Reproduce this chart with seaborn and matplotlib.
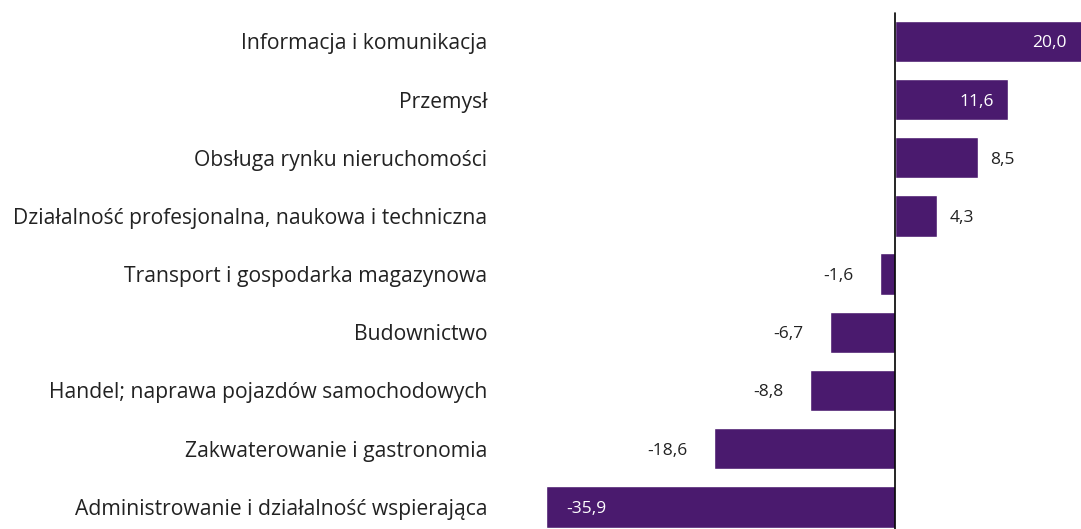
import seaborn as sns
import matplotlib.pyplot as plt
import pandas as pd

# data
categories = ['Informacja i komunikacja', 'Przemysł', 'Obsługa rynku nieruchomości',
              'Działalność profesjonalna, naukowa i techniczna',
              'Transport i gospodarka magazynowa', 'Budownictwo',
              'Handel; naprawa pojazdów samochodowych',
              'Zakwaterowanie i gastronomia',
              'Administrowanie i działalność wspierająca']
values = [20.0, 11.6, 8.5, 4.3, -1.6, -6.7, -8.8, -18.6, -35.9]
inside = [True, True, False, False, False, False, False, False, True]

bar_color = '#4a1a6e'

sns.set_style('white')
plt.rcParams['font.family'] = ['Open Sans', 'DejaVu Sans']

df = pd.DataFrame({'cat': categories, 'val': values})

fig = plt.figure(figsize=(10.81, 5.29), dpi=100)
ax = fig.add_axes([540 / 1081, 0, 541 / 1081, 1])

sns.barplot(data=df, x='val', y='cat', orient='h', color=bar_color,
            width=0.71, saturation=1, ax=ax)

ax.set_xlim(-36.5, 19.1)
ax.set_ylim(8.38, -0.71)
ax.axvline(0, ymin=0, ymax=516 / 529, color='black', lw=1.2)

for s in ax.spines.values():
    s.set_visible(False)
ax.set_xticks([])
ax.set_xlabel('')
ax.set_ylabel('')
ax.tick_params(axis='y', length=0, pad=38, labelsize=15.2, labelcolor='#222222')

# value labels
fs = 12.5
for i, (v, ins) in enumerate(zip(values, inside)):
    txt = f'{v:.1f}'.replace('.', ',')
    if ins:
        if v > 0:
            ax.annotate(txt, (min(v, 19.1), i), xytext=(-10, 0), textcoords='offset points',
                        ha='right', va='center_baseline', color='white', fontsize=fs)
        else:
            ax.annotate(txt, (v, i), xytext=(15, 0), textcoords='offset points',
                        ha='left', va='center_baseline', color='white', fontsize=fs)
    else:
        if v > 0:
            ax.annotate(txt, (v, i), xytext=(9, 0), textcoords='offset points',
                        ha='left', va='center_baseline', color='#222222', fontsize=fs)
        else:
            ax.annotate(txt, (v, i), xytext=(-19, 0), textcoords='offset points',
                        ha='right', va='center_baseline', color='#222222', fontsize=fs)

fig.savefig('out.png', dpi=100)
